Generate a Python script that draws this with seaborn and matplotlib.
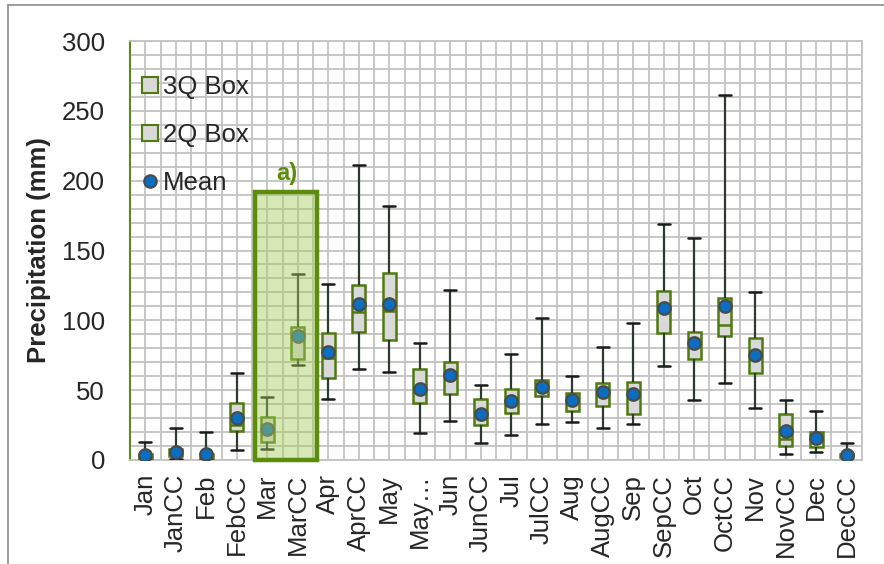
import numpy as np
import pandas as pd
import matplotlib
matplotlib.use("Agg")
import matplotlib.pyplot as plt
from matplotlib.lines import Line2D
from matplotlib.patches import Rectangle
from matplotlib.ticker import MultipleLocator
import seaborn as sns

# Monthly precipitation summaries (mm): observed and climate-change (CC) scenario
months = ["Jan", "JanCC", "Feb", "FebCC", "Mar", "MarCC", "Apr", "AprCC",
          "May", "May…", "Jun", "JunCC", "Jul", "JulCC", "Aug", "AugCC",
          "Sep", "SepCC", "Oct", "OctCC", "Nov", "NovCC", "Dec", "DecCC"]
mins    = [0, 1, 0, 7, 8, 68, 44, 65, 63, 19, 28, 12, 18, 26, 27, 23, 26, 67, 43, 55, 37, 4, 6, 0]
q1s     = [1, 3, 1, 21, 13, 72, 59, 92, 86, 41, 47, 25, 34, 46, 35, 39, 33, 91, 72, 89, 62, 10, 9, 2]
medians = [2, 5, 2, 25, 20, 90, 73, 106, 107, 50, 60, 33, 42, 52, 42, 48, 47, 108, 83, 97, 75, 15, 15, 3]
q3s     = [4, 8, 4, 41, 31, 95, 91, 125, 134, 65, 70, 44, 51, 57, 48, 55, 56, 121, 92, 116, 87, 33, 20, 4]
maxs    = [13, 23, 20, 62, 45, 133, 126, 211, 182, 84, 122, 54, 76, 102, 60, 81, 98, 169, 159, 261, 120, 43, 35, 12]
means   = [3.5, 6, 4, 30, 22, 89, 77, 112, 112, 51, 61, 33, 42, 52, 43, 49, 47, 109, 84, 110, 75, 21, 16, 3.5]

y_ticks = [0, 50, 100, 150, 200, 250, 300]
legend_labels = ["3Q Box", "2Q Box", "Mean"]
highlight_months = ["Mar", "MarCC"]
highlight_top = 192
highlight_label = "a)"

# Five-number samples so the box quartiles land exactly on the summary values
rows = []
for m, a, b, c, d, e in zip(months, mins, q1s, medians, q3s, maxs):
    for v in (a, b, c, d, e):
        rows.append({"month": m, "precip": v})
df = pd.DataFrame(rows)
mean_df = pd.DataFrame({"month": months, "precip": means})

sns.set_style("white")
plt.rcParams["font.family"] = ["Liberation Sans", "DejaVu Sans"]

GREEN = "#4f7a0f"
AXIS_GREEN = "#5a8a1e"
GRID = "#c3c3c3"
BOX_FILL = "#d9d9d9"
MEAN_BLUE = "#0a6fc2"

fig = plt.figure(figsize=(8.84, 5.64), dpi=100)
ax = fig.add_axes([0.1471, 0.1844, 0.8280, 0.7429])

sns.boxplot(data=df, x="month", y="precip", order=months, whis=(0, 100),
            width=0.42, color=BOX_FILL, saturation=1, linecolor=GREEN,
            linewidth=1.8, fliersize=0, ax=ax,
            whiskerprops={"color": "#2f3a2f", "linewidth": 1.6},
            capprops={"color": "#1a1a1a", "linewidth": 1.8},
            medianprops={"color": GREEN, "linewidth": 1.8},
            capwidths=0.38, zorder=3)

sns.stripplot(data=mean_df, x="month", y="precip", order=months, jitter=False,
              size=9, color=MEAN_BLUE, edgecolor="#4a4a4a", linewidth=1.6,
              ax=ax, zorder=5)

# Highlighted months
i0 = months.index(highlight_months[0])
i1 = months.index(highlight_months[1])
ax.add_patch(Rectangle((i0 - 0.4, 0), (i1 - i0) + 1.03, highlight_top,
                       facecolor=(166 / 255, 204 / 255, 91 / 255, 0.45),
                       edgecolor="none", zorder=6))
ax.add_patch(Rectangle((i0 - 0.4, 0), (i1 - i0) + 1.03, highlight_top,
                       facecolor="none", edgecolor="#5b8c0a", linewidth=3.2,
                       zorder=7, clip_on=False))
ax.text((i0 + i1) / 2 + 0.15, highlight_top + 5, highlight_label,
        color="#5b8c0a", fontsize=17, fontweight="bold",
        ha="center", va="bottom", zorder=8)

ax.set_xlim(-0.5, len(months) - 0.5)
ax.set_ylim(y_ticks[0], y_ticks[-1])

# Grid: every 10 mm and every half category
ax.set_yticks(y_ticks)
ax.yaxis.set_minor_locator(MultipleLocator(10))
ax.set_xticks(np.arange(len(months)))
ax.set_xticks(np.arange(len(months) + 1) - 0.5, minor=True)
ax.grid(True, which="both", axis="both", color=GRID, linewidth=1.3, zorder=0)
ax.set_axisbelow(True)

ax.set_xticklabels(months, rotation=90, fontsize=18.5)
ax.tick_params(axis="x", which="major", length=0, pad=10)
ax.tick_params(axis="x", which="minor", length=6, width=1.2, color="#a0a0a0",
               direction="out")
ax.tick_params(axis="y", which="major", length=7, width=1.4, color=AXIS_GREEN,
               direction="out", labelsize=18.5, pad=11)
ax.tick_params(axis="y", which="minor", length=0)

ax.set_xlabel("")
ax.set_ylabel("Precipitation (mm)", fontsize=18.5, fontweight="bold", labelpad=8)

for side in ["top", "right", "bottom"]:
    ax.spines[side].set_color(GRID)
    ax.spines[side].set_linewidth(1.3)
ax.spines["left"].set_color(AXIS_GREEN)
ax.spines["left"].set_linewidth(1.5)

handles = [
    Line2D([], [], linestyle="none", marker="s", markersize=11,
           markerfacecolor=BOX_FILL, markeredgecolor=GREEN, markeredgewidth=1.5),
    Line2D([], [], linestyle="none", marker="s", markersize=11,
           markerfacecolor=BOX_FILL, markeredgecolor=GREEN, markeredgewidth=1.5),
    Line2D([], [], linestyle="none", marker="o", markersize=9,
           markerfacecolor=MEAN_BLUE, markeredgecolor="#4a4a4a", markeredgewidth=1.5),
]
leg = ax.legend(handles, legend_labels, loc="upper left",
                bbox_to_anchor=(-0.003, 0.95), frameon=False, fontsize=18.5,
                handlelength=0.7, handletextpad=0.15, labelspacing=0.93,
                borderaxespad=0.3, borderpad=0.2)
leg.set_zorder(9)

# Outer chart frame
fig.add_artist(Line2D([8 / 884, 8 / 884], [0, 1 - 5 / 564], color="#8c8c8c",
                      linewidth=1.2, transform=fig.transFigure))
fig.add_artist(Line2D([8 / 884, 1], [1 - 5 / 564, 1 - 5 / 564], color="#8c8c8c",
                      linewidth=1.2, transform=fig.transFigure))

fig.savefig("out.png", dpi=100)
